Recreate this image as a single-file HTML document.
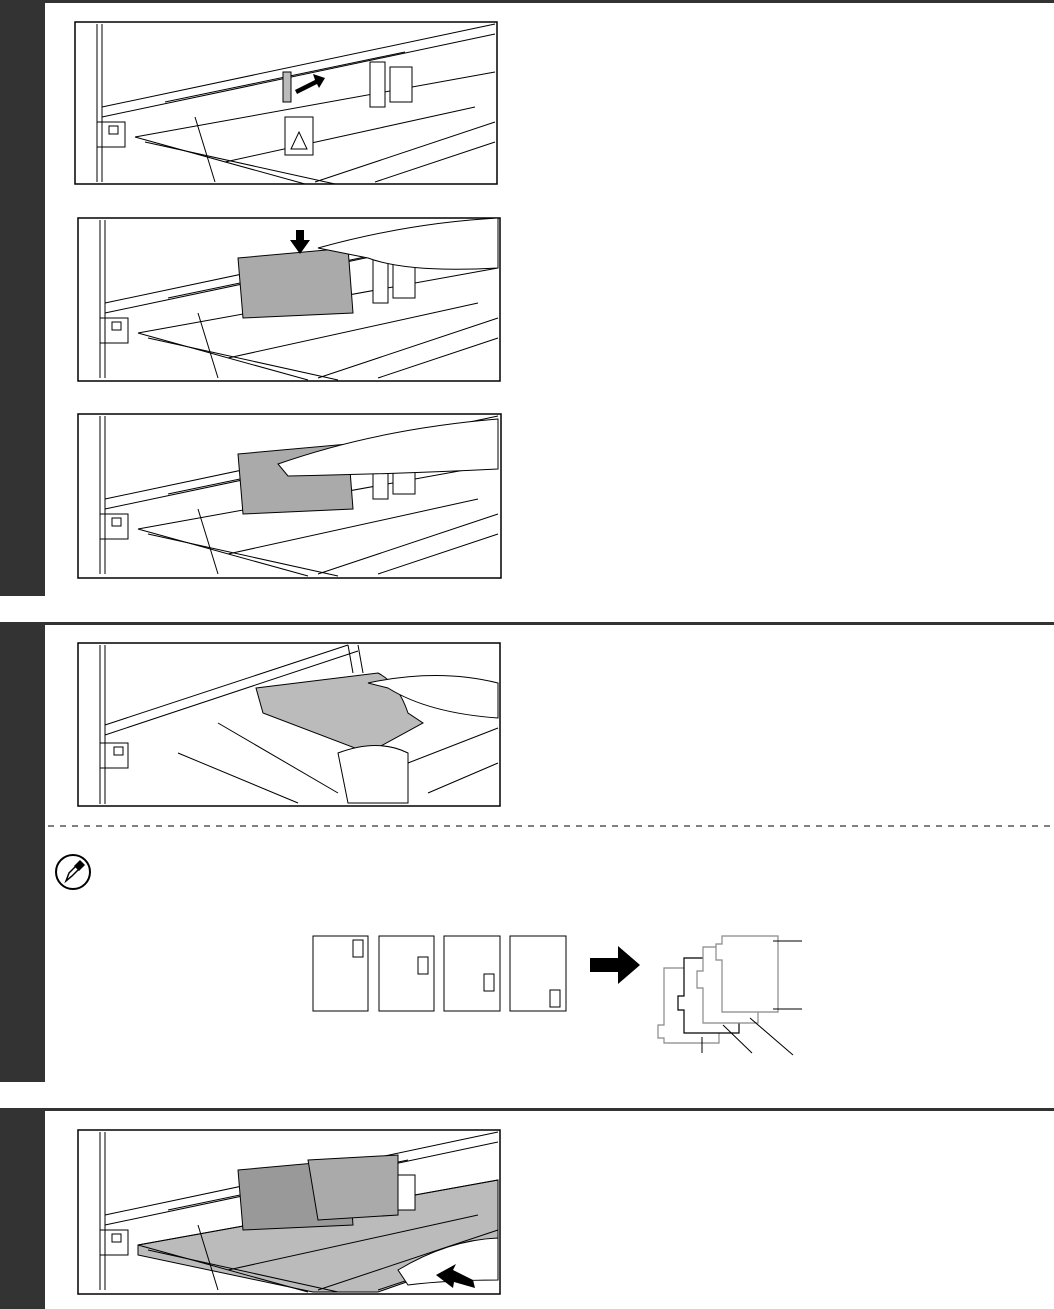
<!DOCTYPE html>
<html><head><meta charset="utf-8"><style>
html,body{margin:0;padding:0;background:#fff;}
svg{display:block;}
</style></head><body>
<svg width="1054" height="1309" viewBox="0 0 1054 1309" xmlns="http://www.w3.org/2000/svg" font-family="Liberation Sans, sans-serif">
<defs>
<g id="tray">
  <line x1="22" y1="2" x2="22" y2="160" stroke="#000" stroke-width="1"/>
  <line x1="27" y1="2" x2="27" y2="160" stroke="#000" stroke-width="1"/>
  <path d="M27 85 L420 2" stroke="#000" fill="none"/>
  <path d="M27 95 L420 12" stroke="#000" fill="none"/>
  <path d="M22 100 L50 100 L50 125 L22 125" stroke="#000" fill="none"/>
  <rect x="34" y="104" width="9" height="8" fill="none" stroke="#000"/>
  <path d="M60 115 L420 50" stroke="#000" fill="none"/>
  <path d="M60 115 L230 162" stroke="#000" fill="none"/>
  <path d="M70 120 L260 162" stroke="#000" fill="none"/>
  <path d="M120 95 L140 160" stroke="#000" fill="none"/>
  <path d="M240 160 L420 100" stroke="#000" fill="none"/>
  <path d="M300 160 L420 120" stroke="#000" fill="none"/>
  <path d="M150 140 L400 85" stroke="#000" fill="none"/>
  <path d="M90 80 L330 30" stroke="#000" fill="none"/>
  <rect x="315" y="45" width="22" height="35" fill="#fff" stroke="#000"/>
  <rect x="295" y="40" width="15" height="45" fill="#fff" stroke="#000"/>
</g>
</defs>

<rect x="0" y="0" width="1054" height="3" fill="#333"/>
<rect x="0" y="0" width="45" height="596" fill="#333"/>
<rect x="0" y="622" width="1054" height="3" fill="#333"/>
<rect x="0" y="622" width="45" height="460" fill="#333"/>
<rect x="0" y="1108" width="1054" height="3" fill="#333"/>
<rect x="0" y="1108" width="45" height="201" fill="#333"/>

<g transform="translate(75,22)">
  <rect x="0" y="0" width="422" height="162" fill="#fff" stroke="#000" stroke-width="1.5"/>
  <use href="#tray"/>
  <rect x="210" y="95" width="28" height="38" fill="#fff" stroke="#000"/>
  <path d="M216 127 L224 110 L232 127 Z" fill="none" stroke="#000"/>
  <rect x="208" y="50" width="8" height="30" fill="#bbb" stroke="#000"/>
  <path d="M220 68 L240 58 L238 52 L250 56 L244 66 L242 62 L222 72 Z" fill="#000"/>
</g>

<g transform="translate(78,218)">
  <rect x="0" y="0" width="422" height="163" fill="#fff" stroke="#000" stroke-width="1.5"/>
  <use href="#tray"/>
  <path d="M160 40 L270 30 L275 95 L165 100 Z" fill="#aaa" stroke="#000"/>
  <path d="M240 30 Q330 5 420 0 L420 50 Q330 55 290 40 Z" fill="#fff" stroke="#000"/>
  <path d="M218 12 L226 12 L226 22 L232 22 L222 36 L212 22 L218 22 Z" fill="#000"/>
</g>

<g transform="translate(78,414)">
  <rect x="0" y="0" width="423" height="164" fill="#fff" stroke="#000" stroke-width="1.5"/>
  <use href="#tray"/>
  <path d="M160 40 L270 30 L275 95 L165 100 Z" fill="#aaa" stroke="#000"/>
  <path d="M200 50 Q300 15 420 5 L420 55 Q320 60 210 62 Z" fill="#fff" stroke="#000"/>
</g>

<g transform="translate(78,643)">
  <rect x="0" y="0" width="422" height="163" fill="#fff" stroke="#000" stroke-width="1.5"/>
  <line x1="22" y1="2" x2="22" y2="161" stroke="#000"/>
  <line x1="27" y1="2" x2="27" y2="161" stroke="#000"/>
  <path d="M27 82 L270 2" stroke="#000" fill="none"/>
  <path d="M27 92 L280 8" stroke="#000" fill="none"/>
  <path d="M22 100 L50 100 L50 125 L22 125" stroke="#000" fill="none"/>
  <rect x="36" y="104" width="9" height="8" fill="none" stroke="#000"/>
  <line x1="270" y1="2" x2="275" y2="30" stroke="#000"/>
  <line x1="280" y1="2" x2="285" y2="30" stroke="#000"/>
  <path d="M178 45 L300 30 Q320 40 330 70 L345 80 L290 110 L185 70 Z" fill="#bbb" stroke="#000"/>
  <path d="M290 40 Q360 25 420 40 L420 75 Q350 70 310 45 Z" fill="#fff" stroke="#000"/>
  <path d="M260 110 Q300 95 330 110 L330 160 L270 160 Z" fill="#fff" stroke="#000"/>
  <path d="M140 80 L260 150" stroke="#000"/>
  <path d="M100 110 L220 160" stroke="#000"/>
  <path d="M330 120 L420 85" stroke="#000"/>
  <path d="M350 150 L420 120" stroke="#000"/>
</g>

<line x1="48" y1="826" x2="1054" y2="826" stroke="#000" stroke-width="1" stroke-dasharray="6,6"/>

<circle cx="73" cy="872" r="17" fill="#fff" stroke="#000" stroke-width="2"/>
<path d="M66 881 L69 873 L80 862 L83 865 L72 876 Z" fill="none" stroke="#000" stroke-width="1.5"/>
<path d="M74 866 L80 860 L85 865 L79 871 Z" fill="#000"/>

<g fill="#fff" stroke="#000" stroke-width="1">
  <rect x="313" y="936" width="55" height="75"/>
  <rect x="353" y="940" width="10" height="17"/>
  <rect x="379" y="936" width="55" height="75"/>
  <rect x="418" y="957" width="10" height="17"/>
  <rect x="444" y="936" width="56" height="75"/>
  <rect x="484" y="974" width="10" height="17"/>
  <rect x="510" y="936" width="56" height="75"/>
  <rect x="550" y="990" width="10" height="17"/>
</g>
<path d="M590 958 L618 958 L618 946 L640 965 L618 984 L618 972 L590 972 Z" fill="#000"/>

<g fill="#fff" stroke-width="1.2">
  <path d="M664 968 L719 968 L719 1043 L664 1043 L664 1038 L658 1038 L658 1025 L664 1025 Z" stroke="#888"/>
  <path d="M684 958 L739 958 L739 1033 L684 1033 L684 1010 L678 1010 L678 996 L684 996 Z" stroke="#000"/>
  <path d="M703 947 L758 947 L758 1023 L703 1023 L703 988 L697 988 L697 971 L703 971 Z" stroke="#888"/>
  <path d="M722 936 L778 936 L778 1012 L722 1012 L722 960 L716 960 L716 944 L722 944 Z" stroke="#888"/>
</g>
<g stroke="#000" stroke-width="1">
  <line x1="773" y1="941" x2="802" y2="941"/>
  <line x1="773" y1="1009" x2="802" y2="1009"/>
  <line x1="702" y1="1037" x2="702" y2="1053"/>
  <line x1="723" y1="1025" x2="752" y2="1053"/>
  <line x1="750" y1="1018" x2="793" y2="1055"/>
</g>

<g transform="translate(78,1130)">
  <rect x="0" y="0" width="422" height="164" fill="#fff" stroke="#000" stroke-width="1.5"/>
  <path d="M60 115 L420 50 L420 120 L300 162 L235 162 L60 125 Z" fill="#bbb" stroke="#000"/>
  <use href="#tray"/>
  <path d="M160 40 L270 30 L275 95 L165 100 Z" fill="#999" stroke="#000"/>
  <path d="M230 30 L320 25 L320 85 L240 90 Z" fill="#aaa" stroke="#000"/>
  <path d="M320 140 Q370 110 420 108 L420 150 Q370 150 330 155 Z" fill="#fff" stroke="#000"/>
  <path d="M395 150 L375 140 L378 134 L358 145 L375 158 L376 152 L397 158 Z" fill="#000"/>
</g>
</svg>
</body></html>
